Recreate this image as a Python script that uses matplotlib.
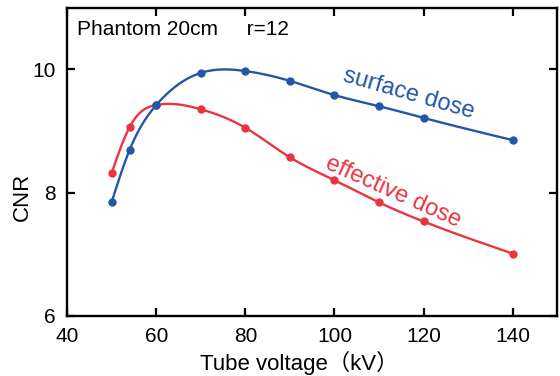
import numpy as np
import matplotlib
matplotlib.use('Agg')
import matplotlib.pyplot as plt

plt.rcParams['font.family'] = ['Liberation Sans', 'Noto Sans CJK JP', 'DejaVu Sans']

# tube voltage (kV)
voltage = [50, 54, 60, 70, 80, 90, 100, 110, 120, 140]
# CNR values
surface_dose = [7.85, 8.69, 9.42, 9.94, 9.97, 9.81, 9.58, 9.40, 9.21, 8.85]
effective_dose = [8.32, 9.06, 9.42, 9.35, 9.05, 8.57, 8.20, 7.84, 7.53, 7.01]


def natural_spline(x, y, n=400):
    """natural cubic spline, only used to draw the smooth line"""
    x = np.asarray(x, float)
    y = np.asarray(y, float)
    k = len(x)
    h = np.diff(x)
    A = np.zeros((k, k))
    b = np.zeros(k)
    A[0, 0] = A[-1, -1] = 1
    for i in range(1, k - 1):
        A[i, i - 1] = h[i - 1]
        A[i, i] = 2 * (h[i - 1] + h[i])
        A[i, i + 1] = h[i]
        b[i] = 3 * ((y[i + 1] - y[i]) / h[i] - (y[i] - y[i - 1]) / h[i - 1])
    c = np.linalg.solve(A, b)
    xs = np.linspace(x[0], x[-1], n)
    idx = np.clip(np.searchsorted(x, xs) - 1, 0, k - 2)
    dx = xs - x[idx]
    bb = (y[idx + 1] - y[idx]) / h[idx] - h[idx] * (2 * c[idx] + c[idx + 1]) / 3
    dd = (c[idx + 1] - c[idx]) / (3 * h[idx])
    ys = y[idx] + bb * dx + c[idx] * dx ** 2 + dd * dx ** 3
    return xs, ys


blue = '#2356a8'
red = '#ec3440'

fig = plt.figure(figsize=(5.6, 3.76), dpi=100)
ax = fig.add_axes([0.12, 0.16, 0.875, 0.82])

for vals, col in [(effective_dose, red), (surface_dose, blue)]:
    xs, ys = natural_spline(voltage, vals)
    ax.plot(xs, ys, color=col, lw=1.7)
    ax.plot(voltage, vals, 'o', color=col, ms=5)

ax.set_xlim(40, 150)
ax.set_ylim(6, 11)
ax.set_xticks([40, 60, 80, 100, 120, 140])
ax.set_yticks([6, 8, 10])
ax.tick_params(direction='in', length=6, width=1.6, labelsize=15,
               top=True, right=True, pad=8)
for s in ax.spines.values():
    s.set_linewidth(1.7)

ax.set_xlabel('Tube voltage（kV）', fontsize=16)
ax.set_ylabel('CNR', fontsize=16)
ax.xaxis.set_label_coords(0.474, -0.115)
ax.yaxis.set_label_coords(-0.07, 0.385)

ax.text(0.02, 0.91, 'Phantom 20cm     r=12', transform=ax.transAxes,
        fontsize=15, va='baseline', ha='left')
ax.text(116.6, 9.6, 'surface dose', color=blue, fontsize=17,
        rotation=-16, ha='center', va='center', rotation_mode='anchor')
ax.text(113.2, 8.01, 'effective dose', color=red, fontsize=17,
        rotation=-24, ha='center', va='center', rotation_mode='anchor')

fig.savefig('out.png', dpi=100)
